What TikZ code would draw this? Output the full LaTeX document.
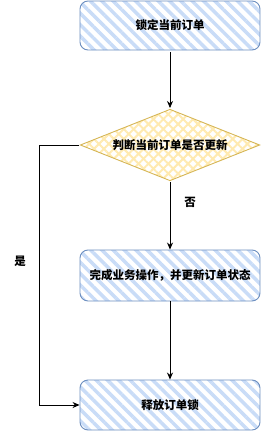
\documentclass[tikz,border=0pt]{standalone}
\usepackage{fontspec}
\newfontfamily\cjk{Noto Sans CJK SC}
\usepackage{tikz}
\usetikzlibrary{positioning,arrows.meta,shapes.geometric,patterns.meta}

\definecolor{boxline}{HTML}{6C8EBF}
\definecolor{boxhatch}{HTML}{C9DCF7}
\definecolor{askline}{HTML}{D6B656}
\definecolor{askhatch}{HTML}{FFEAB0}

\begin{document}
\begin{tikzpicture}[x=1pt, y=-1pt,
        stepbox/.style={rectangle, rounded corners=8pt, draw=boxline, line width=0.9pt,
            pattern={Lines[angle=-45, distance=8pt, line width=3.5pt]}, pattern color=boxhatch,
            minimum width=180pt, minimum height=49pt, font=\cjk\bfseries\fontsize{11.5}{14}\selectfont},
        ask/.style={diamond, aspect=2.5, inner sep=0pt, draw=askline, line width=0.9pt,
            minimum width=180pt, minimum height=72pt, font=\cjk\bfseries\fontsize{11.5}{14}\selectfont,
            preaction={pattern={Lines[angle=45, distance=7pt, line width=2pt]}, pattern color=askhatch},
            pattern={Lines[angle=-45, distance=7pt, line width=2pt]}, pattern color=askhatch},
        arrow/.style={-{Stealth[length=7pt, width=6pt]}, line width=0.8pt},
        label/.style={font=\cjk\bfseries\fontsize{11.5}{14}\selectfont}
    ]
    \useasboundingbox (0,0) rectangle (261,431);

    % Steps
    \node[stepbox] (lock) at (170, 25.5) {锁定当前订单};
    \node[ask] (check) at (170, 145) {判断当前订单是否更新};
    \node[stepbox, minimum height=51pt] (update) at (170, 275.5) {完成业务操作，并更新订单状态};
    \node[stepbox, minimum height=50pt] (release) at (170, 405) {释放订单锁};

    % Branch labels
    \node[label] (no) at (190, 202) {否};
    \node[label] (yes) at (20, 261) {是};

    % Arrows
    \draw[arrow] (lock) -- (check);
    \draw[arrow] (check) -- (update);
    \draw[arrow] (update) -- (release);
    \draw[arrow] (check.west) -- ++(-40, 0) |- (release.west);
\end{tikzpicture}
\end{document}
